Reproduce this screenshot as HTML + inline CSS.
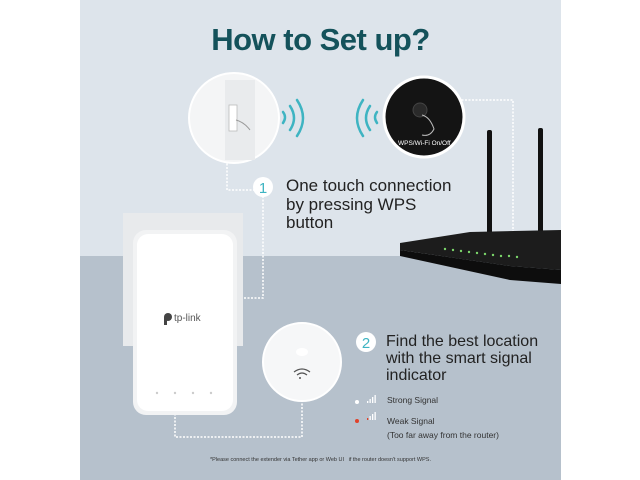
<!DOCTYPE html>
<html><head><meta charset="utf-8"><style>
body{margin:0;width:640px;height:480px;background:#fff;position:relative;overflow:hidden;font-family:"Liberation Sans",sans-serif}
.a{position:absolute}
</style></head><body>
<div class="a" style="left:80px;top:0;width:481px;height:256px;background:#dde4eb"></div>
<div class="a" style="left:80px;top:256px;width:481px;height:224px;background:#b6c1cc"></div>
<div class="a" style="left:80px;top:22px;width:481px;text-align:center;font-weight:bold;font-size:31px;color:#14525b;letter-spacing:-0.5px">How to Set up?</div>
<svg class="a" style="left:0;top:0" width="640" height="480">
<g fill="none" stroke="#fff" stroke-width="1.5" stroke-dasharray="2,1.5">
<path d="M227 160 V190 H254"/>
<path d="M263 196 V298 H243"/>
<path d="M458 100 H513 V232"/>
<path d="M302 400 V437 H175 V413"/>
</g>
<circle cx="234" cy="118" r="45" fill="#f4f5f6" stroke="#fff" stroke-width="2"/>
<rect x="225" y="80" width="30" height="80" fill="#e9ebed"/>
<rect x="229" y="105" width="8" height="26" fill="#fff" stroke="#bbb" stroke-width="0.8"/>
<path d="M236 120 q8 2 14 10" stroke="#999" fill="none"/>
<g fill="none" stroke="#3eb4c2" stroke-width="2.5" stroke-linecap="round">
<path d="M283 112 q4 5 0 11"/><path d="M290 106 q8 12 0 24"/><path d="M297 100 q12 18 0 36"/>
<path d="M377 112 q-4 5 0 11"/><path d="M370 106 q-8 12 0 24"/><path d="M363 100 q-12 18 0 36"/>
</g>
<circle cx="424" cy="117" r="40" fill="#141414" stroke="#fff" stroke-width="3"/>
<circle cx="420" cy="110" r="7" fill="#2a2a2a" stroke="#444"/>
<path d="M422 115 q8 2 12 14 q-4 8 -12 6" stroke="#bbb" fill="none"/>
<text x="398" y="145" font-size="6.5" fill="#fff" font-family="Liberation Sans">WPS/Wi-Fi On/Off</text>
<rect x="487" y="130" width="5" height="116" rx="2" fill="#111"/>
<rect x="538" y="128" width="5" height="122" rx="2" fill="#111"/>
<path d="M400 243 L470 232 L561 230 V270 L510 266 L400 250 Z" fill="#1c1c1c"/>
<path d="M400 250 L510 266 L561 270 V284 L510 280 L400 256 Z" fill="#0d0d0d"/>
<g fill="#7bd46a"><circle cx="445" cy="249" r="1.2"/><circle cx="453" cy="250" r="1.2"/><circle cx="461" cy="251" r="1.2"/><circle cx="469" cy="252" r="1.2"/><circle cx="477" cy="253" r="1.2"/><circle cx="485" cy="254" r="1.2"/><circle cx="493" cy="255" r="1.2"/><circle cx="501" cy="256" r="1.2"/><circle cx="509" cy="256" r="1.2"/><circle cx="517" cy="257" r="1.2"/></g>
<rect x="123" y="213" width="120" height="133" fill="#e8eaec"/>
<rect x="133" y="230" width="104" height="185" rx="13" fill="#f2f3f4"/>
<rect x="137" y="234" width="96" height="177" rx="11" fill="#fff"/>
<circle cx="168" cy="317" r="4" fill="#444"/><rect x="164" y="317" width="3" height="8" fill="#444"/>
<text x="174" y="321" font-size="10" fill="#555">tp-link</text>
<g fill="#ccc"><circle cx="157" cy="393" r="1.2"/><circle cx="175" cy="393" r="1.2"/><circle cx="193" cy="393" r="1.2"/><circle cx="211" cy="393" r="1.2"/></g>
<circle cx="302" cy="362" r="39" fill="#f6f7f8" stroke="#fff" stroke-width="2"/>
<ellipse cx="302" cy="352" rx="6" ry="4" fill="#fff"/>
<g fill="none" stroke="#555" stroke-width="1.2"><path d="M294 372 q8 -6 16 0"/><path d="M297 375 q5 -4 10 0"/></g>
<circle cx="300" cy="378" r="1" fill="#555"/>
<circle cx="263" cy="187" r="10" fill="#fff"/>
<text x="263" y="193" font-size="15" fill="#3eb4c2" text-anchor="middle">1</text>
<circle cx="366" cy="342" r="10" fill="#fff"/>
<text x="366" y="348" font-size="15" fill="#3eb4c2" text-anchor="middle">2</text>
<circle cx="357" cy="402" r="2" fill="#fff"/>
<circle cx="357" cy="421" r="2" fill="#e0422a"/>
<g fill="#fff"><rect x="367" y="401" width="1.3" height="2"/><rect x="369.5" y="399" width="1.3" height="4"/><rect x="372" y="397" width="1.3" height="6"/><rect x="374.5" y="395" width="1.3" height="8"/></g>
<g fill="#fff"><rect x="369.5" y="416" width="1.3" height="4"/><rect x="372" y="414" width="1.3" height="6"/><rect x="374.5" y="412" width="1.3" height="8"/></g>
<rect x="367" y="418" width="1.3" height="2" fill="#e0422a"/>
</svg>
<div class="a" style="left:286px;top:177px;font-size:17px;line-height:18.5px;color:#222">One touch connection<br>by pressing WPS<br>button</div>
<div class="a" style="left:386px;top:333px;font-size:16px;line-height:17px;color:#222">Find the best location<br>with the smart signal<br>indicator</div>
<div class="a" style="left:387px;top:395px;font-size:8.5px;color:#333">Strong Signal</div>
<div class="a" style="left:387px;top:414px;font-size:8.5px;line-height:14px;color:#333">Weak Signal<br>(Too far away from the router)</div>
<div class="a" style="left:80px;top:457px;width:481px;text-align:center;font-size:5.5px;color:#333">*Please connect the extender via Tether app or Web UI &nbsp; if the router doesn't support WPS.</div>
</body></html>
